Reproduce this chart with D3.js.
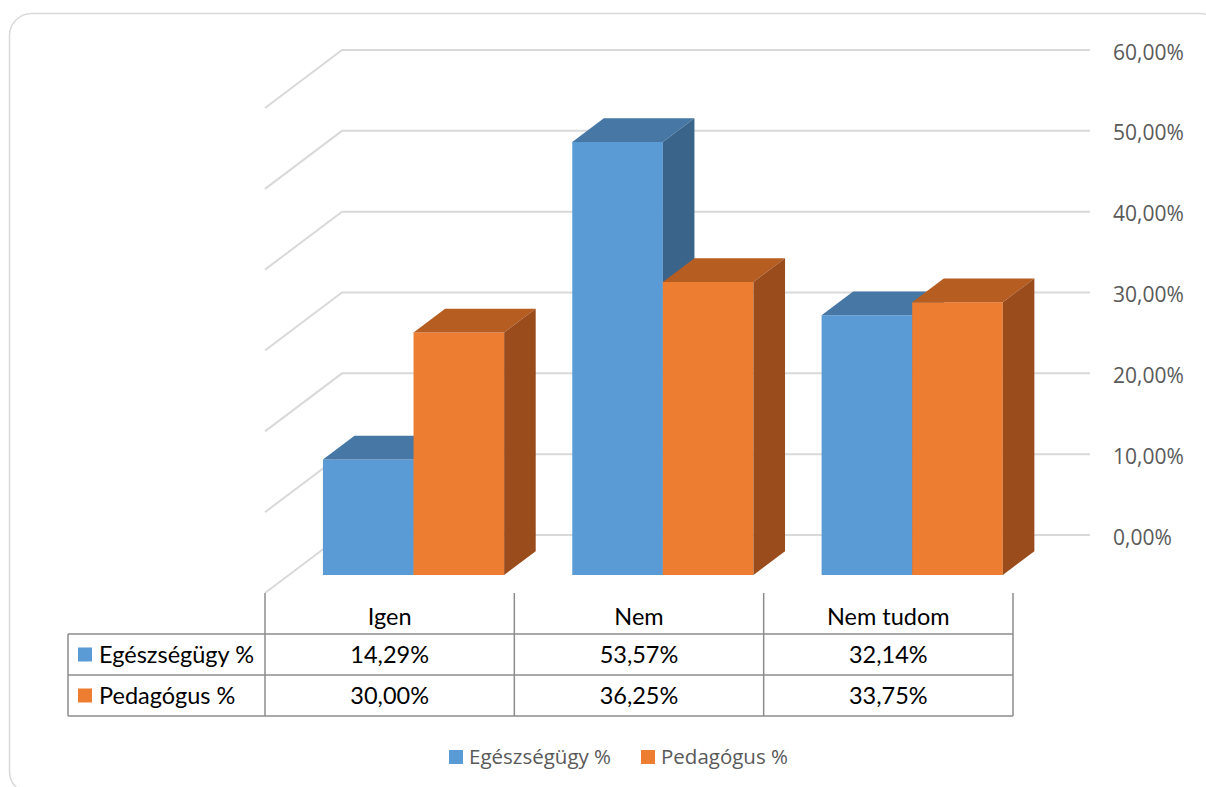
<!DOCTYPE html>
<html>
<head>
<meta charset="utf-8">
<script src="https://cdn.jsdelivr.net/npm/d3@7"></script>
<style>
  html, body { margin: 0; padding: 0; background: #fff; }
  svg { display: block; }
</style>
</head>
<body>
<svg id="chart" width="1206" height="787"></svg>
<script>
// Survey answers by group
const categories = ["Igen", "Nem", "Nem tudom"];
const seriesNames = ["Egészségügy %", "Pedagógus %"];
const egeszsegugy = [14.29, 53.57, 32.14];
const pedagogus = [30.00, 36.25, 33.75];
const tickValues = [0, 10, 20, 30, 40, 50, 60];

const seriesValues = [egeszsegugy, pedagogus];
const faceColors = [
  { front: "#5B9BD5", top: "#4677A5", side: "#3A6489" },
  { front: "#ED7D31", top: "#B65D22", side: "#9A4C1D" }
];

const huLocale = d3.formatLocale({ decimal: ",", thousands: " ", grouping: [3], currency: ["", " Ft"] });
const pct = v => huLocale.format(".2f")(v) + "%";

const svg = d3.select("#chart");

// Chart frame
svg.append("rect")
  .attr("x", 9.5).attr("y", 13.5)
  .attr("width", 1212).attr("height", 780)
  .attr("rx", 22).attr("ry", 22)
  .attr("fill", "#fff").attr("stroke", "#D9D9D9").attr("stroke-width", 1.5);

// Oblique 3D projection: floor front edge, depth runs up and to the right
const floorY = 593;
const depthVec = [77, -58];
const zFront = 0.31, zBack = 0.72;

const x = d3.scaleBand().domain(categories).range([265, 1013]).padding(0);
const xs = d3.scaleBand().domain(d3.range(seriesNames.length))
  .range([0, x.bandwidth()]).paddingInner(0).paddingOuter(0.376);
const h = d3.scaleLinear().domain([0, 60]).range([0, 485]);

const proj = (px, v, z) => [px + z * depthVec[0], floorY - h(v) + z * depthVec[1]];

// Back wall and side wall gridlines
const grid = svg.append("g").attr("stroke", "#D9D9D9").attr("stroke-width", 2).attr("fill", "none");
tickValues.forEach(t => {
  const a = proj(x.range()[0], t, 0);
  const b = proj(x.range()[0], t, 1);
  const c = proj(x.range()[1], t, 1);
  grid.append("path").attr("d", `M${a[0]},${a[1]}L${b[0]},${b[1]}L${c[0]},${c[1]}`);
});

// Value axis labels
svg.append("g").selectAll("text").data(tickValues).join("text")
  .attr("x", proj(x.range()[1], 0, 1)[0] + 23)
  .attr("y", d => proj(x.range()[1], d, 1)[1] + 4)
  .attr("dominant-baseline", "middle")
  .attr("font-family", "'Open Sans', sans-serif")
  .attr("font-size", 21)
  .attr("fill", "#595959")
  .text(d => pct(d));

// Bars as prisms
const poly = pts => "M" + pts.map(p => p.join(",")).join("L") + "Z";
const bars = svg.append("g");
categories.forEach((cat, ci) => {
  seriesValues.forEach((vals, si) => {
    const v = vals[ci];
    const x0 = x(cat) + xs(si), x1 = x0 + xs.bandwidth();
    const col = faceColors[si];
    const g = bars.append("g");
    // front
    g.append("path").attr("fill", col.front).attr("d", poly([
      proj(x0, 0, zFront), proj(x1, 0, zFront), proj(x1, v, zFront), proj(x0, v, zFront)
    ]));
    // top
    g.append("path").attr("fill", col.top).attr("d", poly([
      proj(x0, v, zFront), proj(x1, v, zFront), proj(x1, v, zBack), proj(x0, v, zBack)
    ]));
    // right side
    g.append("path").attr("fill", col.side).attr("d", poly([
      proj(x1, 0, zFront), proj(x1, 0, zBack), proj(x1, v, zBack), proj(x1, v, zFront)
    ]));
  });
});

// Data table
const tableFont = "Lato, 'Open Sans', sans-serif";
const tableSize = 23.5;
const rowTop = 634, rowH = 41, labelLeft = 68;
const tbl = svg.append("g");
const lineColor = "#8C8C8C";
// vertical lines
[x.range()[0], ...categories.map(c => x(c) + x.bandwidth())].forEach(px => {
  tbl.append("line").attr("x1", px).attr("x2", px)
    .attr("y1", floorY).attr("y2", rowTop + rowH * 2)
    .attr("stroke", lineColor).attr("stroke-width", 1.5);
});
tbl.append("line").attr("x1", labelLeft).attr("x2", labelLeft)
  .attr("y1", rowTop).attr("y2", rowTop + rowH * 2)
  .attr("stroke", lineColor).attr("stroke-width", 1.5);
[0, 1, 2].forEach(i => {
  tbl.append("line").attr("x1", labelLeft).attr("x2", x.range()[1])
    .attr("y1", rowTop + i * rowH).attr("y2", rowTop + i * rowH)
    .attr("stroke", lineColor).attr("stroke-width", 1.5);
});
// header
tbl.selectAll("text.cat").data(categories).join("text")
  .attr("class", "cat")
  .attr("x", d => x(d) + x.bandwidth() / 2)
  .attr("y", 625)
  .attr("text-anchor", "middle")
  .attr("font-family", tableFont).attr("font-size", tableSize).attr("fill", "#000")
  .text(d => d);
// rows
seriesNames.forEach((name, si) => {
  const yMid = rowTop + si * rowH + rowH / 2;
  tbl.append("rect").attr("x", 78).attr("y", yMid - 7).attr("width", 14).attr("height", 14)
    .attr("fill", faceColors[si].front);
  tbl.append("text").attr("x", 99).attr("y", yMid + 8)
    .attr("font-family", tableFont).attr("font-size", tableSize).attr("fill", "#000")
    .text(name);
  categories.forEach((cat, ci) => {
    tbl.append("text")
      .attr("x", x(cat) + x.bandwidth() / 2).attr("y", yMid + 8)
      .attr("text-anchor", "middle")
      .attr("font-family", tableFont).attr("font-size", tableSize).attr("fill", "#000")
      .text(pct(seriesValues[si][ci]));
  });
});

// Legend
const legend = svg.append("g");
const legendX = [449, 641];
seriesNames.forEach((name, si) => {
  legend.append("rect").attr("x", legendX[si]).attr("y", 750).attr("width", 14).attr("height", 14)
    .attr("fill", faceColors[si].front);
  legend.append("text").attr("x", legendX[si] + 20).attr("y", 764)
    .attr("font-family", "'Open Sans', sans-serif").attr("font-size", 20.5)
    .attr("fill", "#595959").text(name);
});
</script>
</body>
</html>
